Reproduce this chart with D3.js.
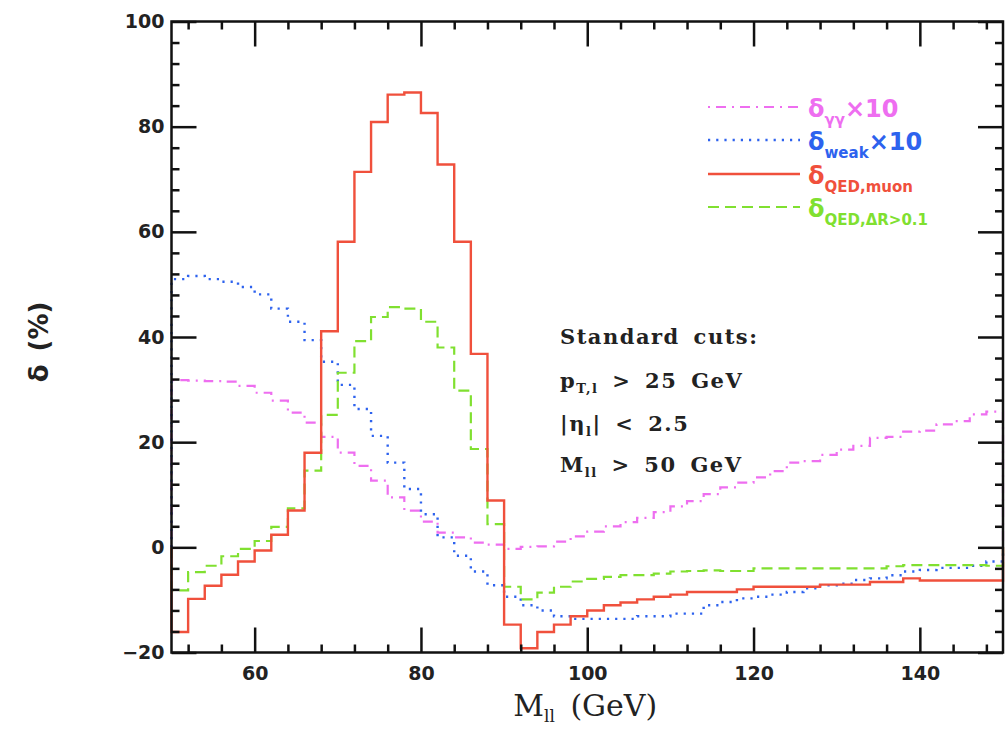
<!DOCTYPE html>
<html>
<head>
<meta charset="utf-8">
<script src="https://cdn.jsdelivr.net/npm/d3@7"></script>
<style>
  html, body { margin: 0; padding: 0; background: #fff; }
  svg { display: block; }
</style>
</head>
<body>
<svg id="chart" width="1007" height="732"></svg>
<script>
// Lower edges of the 2 GeV invariant-mass bins (GeV)
const massLow = [50,52,54,56,58,60,62,64,66,68,70,72,74,76,78,80,82,84,86,88,
                 90,92,94,96,98,100,102,104,106,108,110,112,114,116,118,120,122,124,126,128,
                 130,132,134,136,138,140,142,144,146,148];
const binWidth = 2;

// Relative corrections (%) per bin
const deltaGammaGamma = [31.8,31.7,31.6,31.5,30.7,29.4,27.9,25.6,23.7,21.0,
                         18.0,15.5,12.7,9.5,7.0,4.9,2.8,1.9,0.9,0.5,
                         -0.3,0.1,0.2,1.1,2.1,3.0,4.0,4.8,5.6,6.7,
                         7.8,8.8,10.1,11.4,12.3,13.3,14.5,16.1,16.4,17.6,
                         18.6,19.3,20.8,21.0,22.0,22.2,23.4,24.0,25.3,25.8];
const deltaWeak = [51.0,51.6,51.0,50.5,49.5,48.1,45.4,42.9,39.4,35.3,
                   30.9,26.3,21.2,16.1,11.1,6.3,1.9,-1.6,-4.6,-7.2,
                   -9.4,-11.0,-12.0,-13.1,-13.6,-13.6,-13.6,-13.6,-13.1,-13.1,
                   -12.6,-12.6,-11.0,-10.4,-9.7,-9.4,-9.0,-8.5,-7.8,-7.2,
                   -6.9,-6.2,-5.9,-5.3,-4.6,-4.3,-3.9,-3.9,-3.5,-2.7];
const deltaQedMuon = [-16.1,-9.8,-7.3,-5.2,-2.7,-0.6,2.4,7.0,18.0,41.1,
                      58.1,71.4,80.9,86.1,86.5,82.6,72.8,58.1,36.8,8.9,
                      -14.7,-19.2,-16.1,-14.7,-13.1,-12.0,-11.0,-10.5,-9.9,-9.4,
                      -9.0,-8.5,-8.5,-8.5,-8.0,-7.5,-7.5,-7.5,-7.5,-7.1,
                      -7.1,-7.1,-6.6,-6.6,-5.9,-6.3,-6.3,-6.3,-6.3,-6.3];
const deltaQedDR = [-8.2,-4.7,-3.5,-1.7,-0.3,1.2,3.9,7.4,14.6,25.2,
                    33.2,39.2,43.8,45.7,45.4,42.9,38.0,29.8,18.7,4.4,
                    -7.5,-9.9,-8.6,-7.5,-6.5,-6.0,-5.6,-5.3,-5.3,-5.0,
                    -4.6,-4.5,-4.4,-4.5,-4.5,-4.0,-4.0,-4.0,-4.0,-4.0,
                    -4.0,-4.0,-4.0,-3.6,-3.4,-3.4,-3.4,-3.4,-3.4,-3.5];

// Axis ticks
const xMajorTicks = [60, 80, 100, 120, 140];
const xMinorTicks = [52,56,64,68,72,76,84,88,92,96,104,108,112,116,124,128,132,136,144,148];
const yMajorTicks = [-20, 0, 20, 40, 60, 80, 100];
const yMinorTicks = [-16,-12,-8,-4,4,8,12,16,24,28,32,36,44,48,52,56,64,68,72,76,84,88,92,96];

const svg = d3.select("#chart");
const plot = { left: 171.5, right: 1003, top: 21.5, bottom: 652.5 };

const x = d3.scaleLinear().domain([50, 150]).range([plot.left, plot.right]);
const y = d3.scaleLinear().domain([-20, 100]).range([plot.bottom, plot.top]);

const colors = {
  gg: "#ee6ef0",
  weak: "#2d62ee",
  muon: "#f0503c",
  dr: "#80e030"
};

const series = [
  { key: "gg",   values: deltaGammaGamma, dash: "2,6,10,6", width: 2.2 },
  { key: "weak", values: deltaWeak,       dash: "2.2,6",    width: 2.4 },
  { key: "dr",   values: deltaQedDR,      dash: "11,6",     width: 2.2 },
  { key: "muon", values: deltaQedMuon,    dash: null,       width: 2.4 }
];

// Step outline of a histogram, closed to zero at both ends of the range
function histPoints(values) {
  const pts = [[massLow[0], 0]];
  massLow.forEach((lo, i) => {
    pts.push([lo, values[i]]);
    pts.push([lo + binWidth, values[i]]);
  });
  pts.push([massLow[massLow.length - 1] + binWidth, 0]);
  return pts;
}

const line = d3.line().x(d => x(d[0])).y(d => y(d[1]));

const curves = svg.append("g");
series.forEach(s => {
  curves.append("path")
    .attr("d", line(histPoints(s.values)))
    .attr("fill", "none")
    .attr("stroke", colors[s.key])
    .attr("stroke-width", s.width)
    .attr("stroke-dasharray", s.dash)
    .attr("stroke-linejoin", "miter");
});

// Axes: ticks point inward on all four sides
const tickFont = "'DejaVu Sans', sans-serif";
const fmt = d => d < 0 ? "\u2212" + Math.abs(d) : String(d);

function styleAxis(g) {
  g.select(".domain").remove();
  g.selectAll(".tick line").attr("stroke", "#111").attr("stroke-width", 2.5);
  g.selectAll(".tick text")
    .attr("font-family", tickFont)
    .attr("font-weight", "bold")
    .attr("font-size", 19)
    .attr("fill", "#222");
}

svg.append("g").attr("transform", `translate(0,${plot.bottom})`)
  .call(d3.axisBottom(x).tickValues(xMajorTicks).tickSize(-25).tickPadding(14).tickFormat(fmt))
  .call(styleAxis);
svg.append("g").attr("transform", `translate(0,${plot.bottom})`)
  .call(d3.axisBottom(x).tickValues(xMinorTicks).tickSize(-8).tickFormat(""))
  .call(styleAxis);
svg.append("g").attr("transform", `translate(0,${plot.top})`)
  .call(d3.axisTop(x).tickValues(xMajorTicks).tickSize(-25).tickFormat(""))
  .call(styleAxis);
svg.append("g").attr("transform", `translate(0,${plot.top})`)
  .call(d3.axisTop(x).tickValues(xMinorTicks).tickSize(-8).tickFormat(""))
  .call(styleAxis);

svg.append("g").attr("transform", `translate(${plot.left},0)`)
  .call(d3.axisLeft(y).tickValues(yMajorTicks).tickSize(-25).tickPadding(7).tickFormat(fmt))
  .call(styleAxis);
svg.append("g").attr("transform", `translate(${plot.left},0)`)
  .call(d3.axisLeft(y).tickValues(yMinorTicks).tickSize(-8).tickFormat(""))
  .call(styleAxis);
svg.append("g").attr("transform", `translate(${plot.right},0)`)
  .call(d3.axisRight(y).tickValues(yMajorTicks).tickSize(-25).tickFormat(""))
  .call(styleAxis);
svg.append("g").attr("transform", `translate(${plot.right},0)`)
  .call(d3.axisRight(y).tickValues(yMinorTicks).tickSize(-8).tickFormat(""))
  .call(styleAxis);

// Frame
svg.append("rect")
  .attr("x", plot.left).attr("y", plot.top)
  .attr("width", plot.right - plot.left).attr("height", plot.bottom - plot.top)
  .attr("fill", "none").attr("stroke", "#111").attr("stroke-width", 2.5);

// Axis titles
const xTitle = svg.append("text")
  .attr("x", (plot.left + plot.right) / 2 - 2).attr("y", 716)
  .attr("text-anchor", "middle")
  .attr("font-family", "'DejaVu Serif', serif")
  .attr("font-size", 30).attr("fill", "#222")
  .attr("word-spacing", 6);
xTitle.append("tspan").text("M");
xTitle.append("tspan").attr("font-size", 17).attr("dy", 6).text("ll");
xTitle.append("tspan").attr("dy", -6).text(" (GeV)");

svg.append("text")
  .attr("transform", "translate(48,342) rotate(-90)")
  .attr("text-anchor", "middle")
  .attr("font-family", "'DejaVu Sans', sans-serif")
  .attr("font-weight", "bold")
  .attr("font-size", 26).attr("fill", "#222")
  .attr("word-spacing", 4)
  .text("\u03b4 (%)");

// Legend
const legendItems = [
  { key: "gg",   sub: "\u03b3\u03b3",     suffix: "\u00d710" },
  { key: "weak", sub: "weak",               suffix: "\u00d710" },
  { key: "muon", sub: "QED,muon",           suffix: "" },
  { key: "dr",   sub: "QED,\u0394R>0.1",   suffix: "" }
];
const legendY = [107, 140, 174, 207];
legendItems.forEach((item, i) => {
  const s = series.find(d => d.key === item.key);
  const ly = legendY[i];
  svg.append("line")
    .attr("x1", 708).attr("x2", 800).attr("y1", ly).attr("y2", ly)
    .attr("stroke", colors[item.key]).attr("stroke-width", s.width)
    .attr("stroke-dasharray", s.dash);
  const t = svg.append("text")
    .attr("x", 808).attr("y", ly + 10)
    .attr("font-family", "'DejaVu Sans', sans-serif")
    .attr("font-weight", "bold")
    .attr("font-size", 24)
    .attr("fill", colors[item.key]);
  t.append("tspan").text("\u03b4");
  t.append("tspan").attr("font-size", 15).attr("dy", 8).text(item.sub);
  if (item.suffix) t.append("tspan").attr("dy", -8).text(item.suffix);
});

// Selection cuts
const cutsFont = "'DejaVu Serif', serif";
const cuts = svg.append("g")
  .attr("font-family", cutsFont).attr("font-weight", "bold")
  .attr("font-size", 21).attr("fill", "#222")
  .attr("letter-spacing", 1.5).attr("word-spacing", 5);
cuts.append("text").attr("x", 560).attr("y", 344).text("Standard cuts:");
const c1 = cuts.append("text").attr("x", 560).attr("y", 388);
c1.append("tspan").text("p");
c1.append("tspan").attr("font-size", 13).attr("dy", 5).text("T,l");
c1.append("tspan").attr("dy", -5).text(" > 25 GeV");
const c2 = cuts.append("text").attr("x", 560).attr("y", 431);
c2.append("tspan").text("|\u03b7");
c2.append("tspan").attr("font-size", 13).attr("dy", 5).text("l");
c2.append("tspan").attr("dy", -5).text("| < 2.5");
const c3 = cuts.append("text").attr("x", 560).attr("y", 472);
c3.append("tspan").text("M");
c3.append("tspan").attr("font-size", 13).attr("dy", 5).text("ll");
c3.append("tspan").attr("dy", -5).text(" > 50 GeV");
</script>
</body>
</html>
